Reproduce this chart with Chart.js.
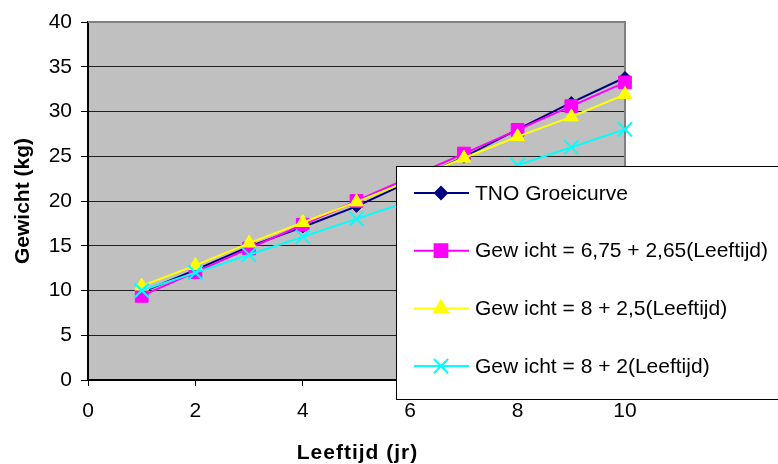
<!DOCTYPE html>
<html>
<head>
<meta charset="utf-8">
<script src="https://cdn.jsdelivr.net/npm/chart.js@4/dist/chart.umd.min.js"></script>
<style>
  body { margin: 0; background: #fff; }
  canvas { display: block; }
</style>
</head>
<body>
<canvas id="groeiChart" width="778" height="464"></canvas>
<script>
// leeftijd in jaren
const leeftijd = [1, 2, 3, 4, 5, 6, 7, 8, 9, 10];

// gewicht (kg) per reeks
const tnoCurve = [9.8, 12.3, 14.9, 17.1, 19.4, 22.2, 24.9, 28.0, 31.0, 33.8];
const model1 = [9.4, 12.05, 14.7, 17.35, 20.0, 22.65, 25.3, 27.95, 30.6, 33.25];
const model2 = [10.5, 12.8, 15.3, 17.6, 19.9, 22.3, 24.8, 27.2, 29.4, 31.9];
const model3 = [10, 12, 14, 16, 18, 20, 22, 24, 26, 28];

const reeksNamen = [
  'TNO Groeicurve',
  'Gew icht = 6,75 + 2,65(Leeftijd)',
  'Gew icht = 8 + 2,5(Leeftijd)',
  'Gew icht = 8 + 2(Leeftijd)'
];

const xTicks = [0, 2, 4, 6, 8, 10];
const yTicks = [0, 5, 10, 15, 20, 25, 30, 35, 40];
const xTitel = 'Leeftijd (jr)';

const FONT = '"Liberation Sans", Arial, sans-serif';

function punten(waarden) {
  return leeftijd.map((x, i) => ({ x: x, y: waarden[i] }));
}

// grijze achtergrond van het plotgebied
const plotAchtergrond = {
  id: 'plotAchtergrond',
  beforeDraw(chart) {
    const { ctx, chartArea: a } = chart;
    ctx.save();
    ctx.fillStyle = '#C0C0C0';
    ctx.fillRect(a.left, a.top, a.right - a.left, a.bottom - a.top);
    ctx.restore();
  },
  beforeDatasetsDraw(chart) {
    const { ctx, chartArea: a } = chart;
    ctx.save();
    ctx.strokeStyle = '#808080';
    ctx.lineWidth = 2;
    ctx.beginPath();
    ctx.moveTo(a.left, a.top);
    ctx.lineTo(a.right, a.top);
    ctx.lineTo(a.right, a.bottom);
    ctx.stroke();
    ctx.restore();
  }
};

// legenda in een wit kader over de grafiek heen, zoals in Excel
const excelLegenda = {
  id: 'excelLegenda',
  afterDraw(chart) {
    const ctx = chart.ctx;
    const a = chart.chartArea;
    ctx.save();

    // x-as titel met wat extra letterafstand
    ctx.fillStyle = '#000';
    ctx.font = 'bold 21px ' + FONT;
    ctx.letterSpacing = '1px';
    ctx.textAlign = 'center';
    ctx.textBaseline = 'middle';
    ctx.fillText(xTitel, (a.left + a.right) / 2 + 1, 453);
    ctx.letterSpacing = '0px';

    ctx.fillStyle = '#fff';
    ctx.fillRect(396, 166, 390, 234);
    ctx.strokeStyle = '#000';
    ctx.lineWidth = 1;
    ctx.strokeRect(396.5, 166.5, 390, 233);

    chart.data.datasets.forEach((ds, i) => {
      const y = 193 + i * 57.7;
      ctx.strokeStyle = ds.borderColor;
      ctx.lineWidth = 2;
      ctx.beginPath();
      ctx.moveTo(414, y);
      ctx.lineTo(469, y);
      ctx.stroke();
      ctx.fillStyle = ds.backgroundColor;
      ctx.strokeStyle = ds.borderColor;
      Chart.helpers.drawPoint(ctx, {
        pointStyle: ds.pointStyle,
        radius: ds.pointRadius,
        rotation: 0,
        borderWidth: ds.pointBorderWidth
      }, 441, y);
      ctx.fillStyle = '#000';
      ctx.font = '21px ' + FONT;
      ctx.textAlign = 'left';
      ctx.textBaseline = 'middle';
      ctx.fillText(ds.label, 475, y + 1);
    });
    ctx.restore();
  }
};

const kleuren = ['#000080', '#FF00FF', '#FFFF00', '#00FFFF'];
const vormen = ['rectRot', 'rect', 'triangle', 'crossRot'];
const groottes = [6, 9, 8, 10];
const reeksen = [tnoCurve, model1, model2, model3];

const datasets = reeksen.map((waarden, i) => ({
  label: reeksNamen[i],
  data: punten(waarden),
  borderColor: kleuren[i],
  backgroundColor: kleuren[i],
  borderWidth: 2,
  pointStyle: vormen[i],
  pointRadius: groottes[i],
  pointBorderWidth: i === 3 ? 2 : 1,
  pointBackgroundColor: kleuren[i],
  pointBorderColor: kleuren[i],
  tension: 0,
  clip: false,
  order: 4 - i
}));

new Chart(document.getElementById('groeiChart').getContext('2d'), {
  type: 'line',
  data: { datasets: datasets },
  options: {
    responsive: false,
    animation: false,
    layout: { padding: { top: 22, right: 153, left: 0, bottom: 0 } },
    plugins: {
      legend: { display: false },
      tooltip: { enabled: false }
    },
    scales: {
      x: {
        type: 'linear',
        min: 0,
        max: 10,
        afterFit: (s) => { s.height = 84; },
        afterBuildTicks: (s) => { s.ticks = xTicks.map(v => ({ value: v })); },
        border: { display: true, color: '#000', width: 2 },
        grid: { drawOnChartArea: false, drawTicks: true, tickLength: 6, color: '#000', lineWidth: 1 },
        ticks: { color: '#000', padding: 13, maxRotation: 0, font: { family: FONT, size: 21 } },
        title: { display: false }
      },
      y: {
        min: 0,
        max: 40,
        afterFit: (s) => { s.width = 88; },
        afterBuildTicks: (s) => { s.ticks = yTicks.map(v => ({ value: v })); },
        border: { display: true, color: '#000', width: 2 },
        grid: {
          color: (c) => (c.tick && c.tick.value === 40 ? '#808080' : '#202020'),
          tickColor: '#000',
          lineWidth: 1,
          tickLength: 7
        },
        ticks: { color: '#000', padding: 9, font: { family: FONT, size: 21 } },
        title: {
          display: true,
          text: 'Gewicht (kg)',
          color: '#000',
          padding: { top: 11, bottom: 0 },
          font: { family: FONT, size: 21, weight: 'bold' }
        }
      }
    }
  },
  plugins: [plotAchtergrond, excelLegenda]
});
</script>
</body>
</html>
